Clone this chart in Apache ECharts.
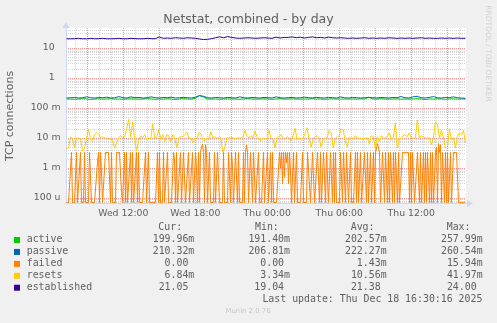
<!DOCTYPE html>
<html><head><meta charset="utf-8">
<script src="https://cdn.jsdelivr.net/npm/echarts@6/dist/echarts.min.js"></script>
<style>html,body{margin:0;padding:0;background:#f0f0f0;}#c{width:497px;height:323px;}</style>
</head><body><div id="c"></div>
<script>
// ---- axis / tick data ----
const xLabelHours = [12, 18, 24, 30, 36];            // hours since Wed 00:00
const xLabelTexts = ['Wed 12:00', 'Wed 18:00', 'Thu 00:00', 'Thu 06:00', 'Thu 12:00'];
const xMajorHours = [9, 12, 15, 18, 21, 24, 27, 30, 33, 36, 39];
const xMinorHours = [8, 10, 11, 13, 14, 16, 17, 19, 20, 22, 23, 25, 26, 28, 29, 31, 32, 34, 35, 37, 38, 40];
const yLabelValues = [1e-4, 1e-3, 1e-2, 0.1, 1, 10];
const yLabelTexts = ['100 u', '1 m', '10 m', '100 m', '1  ', '10  '];
const yMinorMantissas = [2, 3, 4, 5, 6, 7, 8, 9];
const firstSampleHour = 7.2667;   // Wed 07:16
const lastSampleHour = 40.5167;   // Thu 16:31

// ---- series values ----
const seriesNames = ['active', 'passive', 'failed', 'resets', 'established'];
const seriesColors = ['#00cc00', '#0066b3', '#ff8000', '#ffcc00', '#330099'];

// active (connections/s)
const active = [
 0.2,0.198,0.195,0.2,0.205,0.2,0.192,0.2,0.202,0.198,
 0.2,0.205,0.198,0.2,0.195,0.2,0.202,0.2,0.198,0.2,
 0.205,0.2,0.195,0.2,0.198,0.202,0.2,0.192,0.2,0.205,
 0.2,0.198,0.21,0.258,0.23,0.2,0.198,0.2,0.195,0.2,
 0.202,0.198,0.2,0.195,0.2,0.205,0.2,0.198,0.2,0.202,
 0.2,0.195,0.2,0.205,0.198,0.2,0.202,0.2,0.198,0.2,
 0.2,0.205,0.198,0.2,0.195,0.2,0.202,0.2,0.198,0.2,
 0.2,0.2,0.198,0.202,0.2,0.23,0.2,0.198,0.205,0.2,
 0.198,0.2,0.202,0.195,0.2,0.198,0.2,0.205,0.2,0.191,
 0.2,0.198,0.202,0.2,0.195,0.2,0.202,0.198,0.2,0.19996
];
// passive (connections/s)
const passive = [
 0.215,0.22,0.225,0.215,0.22,0.235,0.22,0.215,0.225,0.22,
 0.23,0.215,0.22,0.24,0.22,0.215,0.235,0.22,0.225,0.215,
 0.22,0.235,0.22,0.215,0.225,0.22,0.23,0.215,0.22,0.225,
 0.22,0.215,0.23,0.26,0.245,0.22,0.215,0.225,0.22,0.215,
 0.225,0.22,0.215,0.235,0.22,0.215,0.225,0.22,0.215,0.225,
 0.22,0.215,0.235,0.22,0.215,0.22,0.225,0.215,0.22,0.23,
 0.22,0.215,0.225,0.22,0.215,0.225,0.22,0.215,0.235,0.22,
 0.215,0.225,0.22,0.215,0.22,0.225,0.22,0.215,0.225,0.22,
 0.215,0.225,0.22,0.24,0.22,0.215,0.235,0.245,0.22,0.215,
 0.225,0.24,0.22,0.215,0.225,0.22,0.235,0.22,0.215,0.21
];
// failed (milli-connections/s), 5-minute samples
const failedMilli = [
 0,0,0,0,0,3.3,0,0,0,0,3.3,0,0,0,3.3,0,0,0,3.3,0,
 0,0,0,3.3,3.3,0,0,0,0,0,0,1.5,3.3,0,3.3,0.8,0,0,0,3.3,
 3.3,3.3,3.3,3.3,0,3.3,0,0,0,0,3.3,3.3,3.3,3.3,3.3,0.15,0,0,3.3,0,
 3.3,0,0,0,3.3,0,3.3,0,0,0,3.3,0,3.3,0,0,0,0,0,0,3.3,
 0,0,3.3,0,0,0,0,0,0,0,0,3.3,0,3.3,0,0,0,3.3,0,0,
 0,3.3,0,0,0,0,0,3.3,2.0,0,3.3,0,0,0,3.3,0,0,3.3,3.3,0,
 0,0,3.3,0,0,0,3.3,0,0,3.3,1.0,0,3.3,0,3.3,5.0,6.3,3.3,0,6.0,
 3.3,0,0,3.3,0,0,0,0,3.3,0,0,3.3,3.3,0,0,0,0,3.3,0,0,
 0,0,3.3,3.3,0,3.3,1.2,0,0,3.3,3.3,0,3.3,0,0,0,0,3.3,0,3.3,
 6.0,3.3,0,0,3.3,3.3,0,3.3,3.3,0,0,0,3.3,0,0,0,0,3.3,0,0,
 0,3.3,0,0,3.3,0,3.3,0,0,0,0,0,0,3.3,1.0,3.3,0.3,3.3,0.5,3.3,
 1.5,3.3,0.3,3.3,0.8,0,0,3.3,0,0,3.3,0,0,0,0,0,3.3,0,0,0,
 0,3.3,3.3,3.3,0,0,3.3,3.3,0,0,0,3.3,3.3,0,3.3,0,0,3.3,3.3,0,
 3.3,3.3,0,0,3.3,3.3,0,3.3,0,3.3,0,0,0,0,3.3,3.3,0,3.3,3.3,0,
 3.3,3.3,0,0,3.3,0,0,0,0,3.3,0,3.3,0,0,3.3,0,0,0,3.3,3.3,
 0,3.3,0,0,3.3,0,0,3.3,0,3.3,3.3,6.5,6.0,3.3,0,0,3.3,3.3,0,3.3,
 3.3,0,3.3,0,3.3,3.3,0,3.3,0,3.3,3.3,0,3.3,0,0,0,3.3,3.3,3.3,3.3,
 3.3,3.3,3.3,0,3.3,0,3.3,3.3,0,0,0,3.3,3.3,0,3.3,0,0,3.3,0,3.3,
 0,3.3,3.3,0,3.3,0,3.3,0,0,3.3,5.0,0,6.5,3.3,6.0,0,3.3,3.3,0,3.3,
 0,3.3,0,0,3.3,0,0,3.3,3.3,3.3,3.3,3.3,0,0,0,0,0,0,0,0
];
// resets (milli-connections/s), 10-minute samples
const resetsMilli = [
 4.3,4.6,11,9,4.6,10,10,9.5,3.7,4.5,
 10,20,9,8,13,15,14,10,11,10,
 10,9,10,8,4.6,7,10,12,10,11,
 20,42,11,35,9,3.7,8,12,10,13,
 9,10,9,30,10,10,20,9,13,8,
 13,12,7.5,13,10,4.6,10,11,11,13,
 16,10,10,7,10,9,15,14,9,8,
 10,9,16,10,11,10,10,10,3.34,5,
 10,10,11,10,9.5,10,10,10,11,18,
 12,10,12,10,17,11,9,8,10,9,
 10,18,10,9,4.6,10,11,13,10,9,
 11,10,8,12,21,9,10,9,10,14,
 22,9,5,9,11,12,10,5,9,10,
 10,18,15,4.6,9,11,12,20,19,8,
 5,10,10,9,12,10,9.5,10,9,10,
 10,6.5,12,11,4.6,11,7.5,12,10,10,
 11,15,9,10,32,4.6,9,10,12,13,
 11,15,10,10,10,40,10,12,11,10,
 10,10,6,10,34,30,10,18,10,4.6,
 5,20,9,10,4.6,12,14,13,18,6.84
];
// established (connections)
const established = [
 20.3,20.3,20.5,21,20.3,20.3,21,20.3,20.5,21,
 20.3,20.3,20.5,21,20.3,20.3,21,20.5,20.3,20.3,
 21,20.5,20.3,23.5,21,21.5,21,22,21.5,21,
 22,21.5,21,20,19.2,19.5,20.5,22,23.5,22,
 24,22.5,21.5,21,21.5,22,21.5,21,21.5,22,
 21.5,21,23,21.5,22.5,22.5,23.5,22,23,21.5,
 22.5,23.5,22,22.5,21.5,23,22,21.5,22,21.5,
 21,21.5,21,21.5,22,21,21.5,21,21.5,21,
 22,21.5,21,21.5,21,21.5,21,21.5,22,21,
 21.5,21,21,21.5,21,21.5,21,21.5,21,21.05
];

// ---- legend texts ----
const legendCur = ['199.96m', '210.32m', '0.00 ', '6.84m', '21.05 '];
const legendMin = ['191.40m', '206.81m', '0.00 ', '3.34m', '19.04 '];
const legendAvg = ['202.57m', '222.27m', '1.43m', '10.56m', '21.38 '];
const legendMax = ['257.99m', '260.54m', '15.94m', '41.97m', '24.00 '];
const legendHeaders = ['Cur:', 'Min:', 'Avg:', 'Max:'];
const lastUpdate = 'Last update: Thu Dec 18 16:30:16 2025';
const titleText = 'Netstat, combined - by day';
const yAxisTitle = 'TCP connections';
const watermark = 'RRDTOOL / TOBI OETIKER';
const version = 'Munin 2.0.76';

// ---- build ----
const xMin = 7.225, xMax = 40.5583;
const yMin = Math.pow(10, -4.1833), yMax = Math.pow(10, 1.6667);
const zeroFloor = 7.1e-5; // rrdtool draws zero at the bottom edge of a log graph

function pairs(vals, conv) {
  const n = vals.length;
  return vals.map((v, i) => [firstSampleHour + i * (lastSampleHour - firstSampleHour) / (n - 1), conv(v)]);
}
const same = v => v;
const milli = v => (v === 0 ? zeroFloor : v / 1000);
const seriesData = [pairs(active, same), pairs(passive, same), pairs(failedMilli, milli), pairs(resetsMilli, milli), pairs(established, same)];

const yMinorValues = [];
for (let e = -5; e <= 1; e++) {
  yMinorMantissas.forEach(m => {
    const v = m * Math.pow(10, e);
    if (v >= yMin && v <= yMax) yMinorValues.push(v);
  });
}
const minorC = 'rgba(150,150,150,0.42)';
const majorC = 'rgba(222,79,79,0.58)';

const textC = '#606060';
const axisC = '#cfd6f8';
const sans = 'DejaVu Sans';
const mono = 'DejaVu Sans Mono';

const graphics = [];
const txt = (x, y, text, font, fill, align, rot) => ({type: 'text', x: x, y: y, rotation: rot || 0, z: 100,
  style: {text: text, font: font, fill: fill, textAlign: align, textVerticalAlign: 'middle', verticalAlign: 'middle'}});
graphics.push(txt(248.5, 20, titleText, '12.5px "' + sans + '"', textC, 'center'));
graphics.push(txt(10.5, 116, yAxisTitle, '11px "' + sans + '"', textC, 'center', Math.PI / 2));
graphics.push(txt(487.5, 53.5, watermark, '7.5px "' + sans + '"', '#d2d2d2', 'center', -Math.PI / 2));
const headerX = [158.3, 255, 350.7, 446.7];
const monoFont = '9.9px "' + mono + '"';
legendHeaders.forEach((h, i) => graphics.push(txt(headerX[i], 227.5, h, monoFont, textC, 'left')));
const colRight = [194.3, 290, 386.6, 482.6];
const cols = [legendCur, legendMin, legendAvg, legendMax];
seriesNames.forEach((name, r) => {
  const y = 240 + r * 11.93;
  graphics.push({type: 'rect', shape: {x: 14, y: y - 3, width: 6, height: 6}, style: {fill: seriesColors[r]}});
  graphics.push(txt(26.7, y - 0.5, name, monoFont, textC, 'left'));
  cols.forEach((col, c) => graphics.push(txt(colRight[c], y - 0.5, col[r], monoFont, textC, 'right')));
});
graphics.push(txt(482.4, 299.8, lastUpdate, monoFont, textC, 'right'));
graphics.push(txt(248, 311.5, version, '6.9px "' + sans + '"', '#c8c8c8', 'center'));

const xFmt = v => { const i = xLabelHours.findIndex(h => Math.abs(h - v) < 1e-6); return i >= 0 ? xLabelTexts[i] : ''; };
const yFmt = v => { const i = yLabelValues.findIndex(a => Math.abs(Math.log10(a) - Math.log10(v)) < 1e-6); return i >= 0 ? yLabelTexts[i] : ''; };

const chart = echarts.init(document.getElementById('c'), null, {renderer: 'canvas'});
chart.setOption({
  animation: false,
  backgroundColor: '#f0f0f0',
  grid: {left: 66, right: 31, top: 28, bottom: 119.5, show: true, backgroundColor: '#ffffff', borderWidth: 0, containLabel: false, outerBoundsMode: 'none'},
  xAxis: [{
    type: 'value', min: xMin, max: xMax, position: 'bottom', z: 3,
    axisLine: {show: true, onZero: false, lineStyle: {color: axisC, width: 1}, symbol: ['none', 'triangle'], symbolSize: [7, 6], symbolOffset: [0, 4]},
    axisTick: {show: false, customValues: xMajorHours},
    axisLabel: {customValues: xLabelHours, color: textC, fontFamily: sans, fontSize: 9.33, margin: 5.5, formatter: xFmt},
    splitLine: {show: true, lineStyle: {color: majorC, width: 1, type: [1, 1]}}
  }, {
    type: 'value', min: xMin, max: xMax, position: 'top', z: 1,
    axisLine: {show: false}, axisLabel: {show: false},
    axisTick: {show: false, customValues: xMinorHours},
    splitLine: {show: true, lineStyle: {color: minorC, width: 1, type: [1, 1]}}
  }],
  yAxis: [{
    type: 'log', logBase: 10, min: yMin, max: yMax, position: 'left', z: 3,
    axisLine: {show: true, onZero: false, lineStyle: {color: axisC, width: 1}, symbol: ['none', 'triangle'], symbolSize: [7, 6], symbolOffset: [0, 3]},
    axisTick: {show: false, customValues: yLabelValues},
    axisLabel: {customValues: yLabelValues, color: textC, fontFamily: sans, fontSize: 9.33, margin: 5.5, formatter: yFmt},
    splitLine: {show: true, lineStyle: {color: majorC, width: 1, type: [1, 1]}},
    minorTick: {show: false}, minorSplitLine: {show: false}
  }, {
    type: 'log', logBase: 10, min: yMin, max: yMax, position: 'right', z: 1,
    axisLine: {show: false}, axisLabel: {show: false},
    axisTick: {show: false, customValues: yMinorValues},
    splitLine: {show: true, lineStyle: {color: minorC, width: 1, type: [1, 1]}},
    minorTick: {show: false}, minorSplitLine: {show: false}
  }],
  series: seriesNames.map((n, i) => ({
    name: n, type: 'line', data: seriesData[i], showSymbol: false, symbol: 'none',
    xAxisIndex: 0, yAxisIndex: 0,
    lineStyle: {color: seriesColors[i], width: 1}, itemStyle: {color: seriesColors[i]},
    clip: true, z: 4 + i
  })),
  graphic: graphics
});
</script>
</body></html>
